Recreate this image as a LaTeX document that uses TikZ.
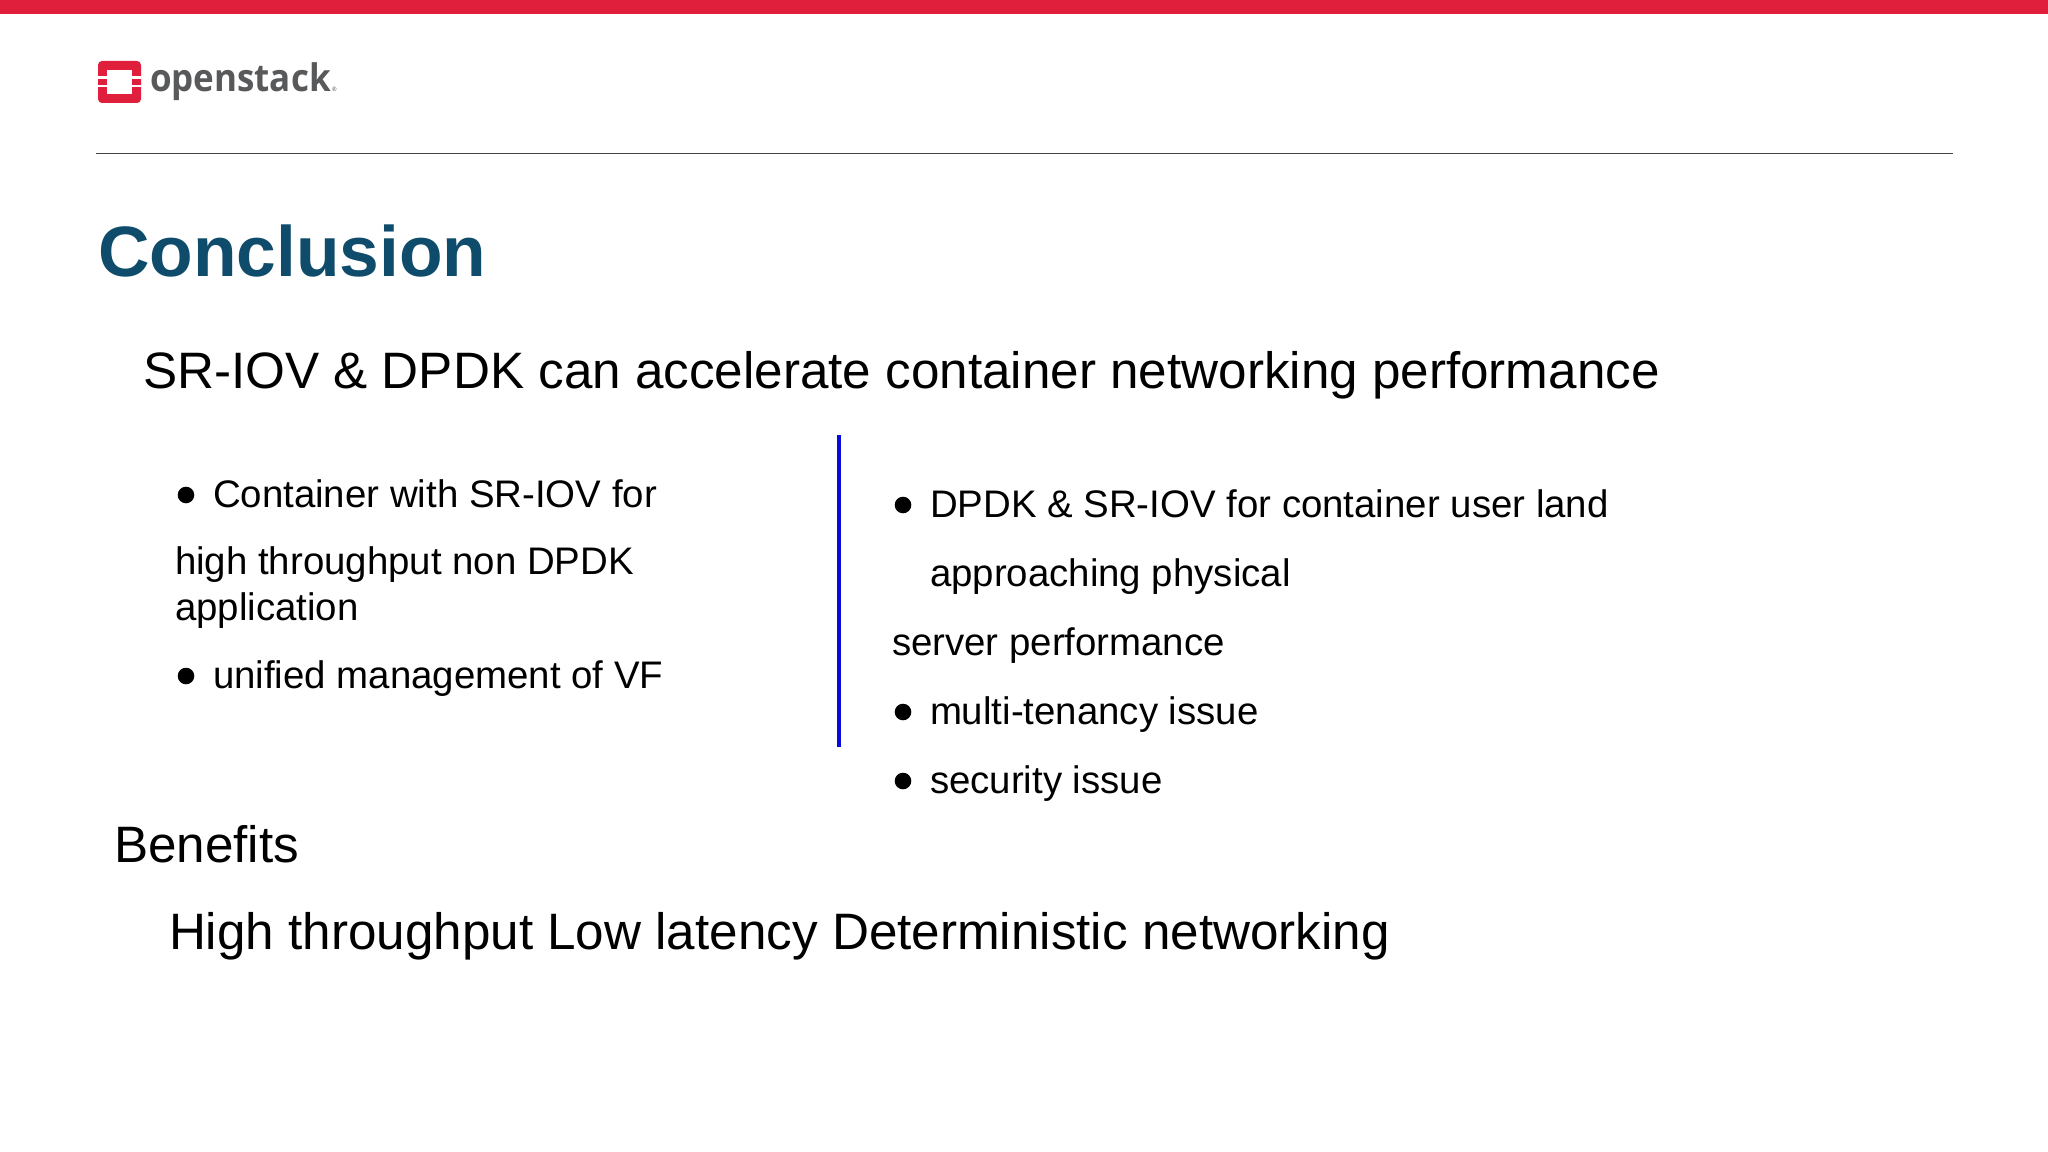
\documentclass[tikz,border=0pt]{standalone}
\usepackage{fontspec}
\setmainfont{Liberation Sans}
\newfontfamily\logofont[FakeStretch=0.92]{Open Sans}
\definecolor{topred}{HTML}{E01F3D}
\definecolor{titleblue}{HTML}{0F4C6B}
\definecolor{rulegray}{HTML}{444444}
\definecolor{divblue}{HTML}{0A0ADC}
\definecolor{logogray}{HTML}{58595B}
\tikzset{
 txt/.style={anchor=base west,inner sep=0pt,outer sep=0pt,text=black},
 body/.style={txt,font=\fontsize{28.8}{34}\selectfont},
 big/.style={txt,font=\fontsize{38.4}{46}\selectfont},
}
\begin{document}
\begin{tikzpicture}[x=0.75pt,y=-0.75pt]
\useasboundingbox (0,0) rectangle (2048,1152);
\fill[white] (0,0) rectangle (2048,1152);
\fill[topred] (0,0) rectangle (2048,14);
% logo
\fill[topred,rounded corners=3pt] (98,61) rectangle (141,103);
\fill[white] (107,70) rectangle (132,94);
\fill[white] (98,76.5) rectangle (107,79);
\fill[white] (98,85) rectangle (107,87.5);
\fill[white] (132,76.5) rectangle (141,79);
\fill[white] (132,85) rectangle (141,87.5);
\node[txt,text=logogray,font=\logofont\bfseries\fontsize{28.5}{34}\selectfont] (logo) at (150,92) {openstack};
\node[txt,text=logogray,font=\logofont\fontsize{4.5}{6}\selectfont] (reg) at (332,92) {®};
\draw[rulegray,line width=0.75pt] (96,153.5) -- (1953,153.5);
\node[txt,text=titleblue,font=\bfseries\fontsize{53.5}{60}\selectfont] (title) at (98,276) {Conclusion};
\node[big] (head) at (143,388) {SR-IOV \& DPDK can accelerate container networking performance};
% left column
\node[body] (l1) at (213,507) {Container with SR-IOV for};
\node[body] (l2) at (175,574) {high throughput non DPDK};
\node[body] (l3) at (175,620) {application};
\node[body] (l4) at (213,688) {unified management of VF};
\fill[black] (186,495) circle (8.3);
\fill[black] (186,676) circle (8.3);
\draw[divblue,line width=2.6pt] (839,435) -- (839,747);
% right column
\node[body] (r1) at (930,517) {DPDK \& SR-IOV for container user land};
\node[body] (r2) at (930,586) {approaching physical};
\node[body] (r3) at (892,655) {server performance};
\node[body] (r4) at (930,724) {multi-tenancy issue};
\node[body] (r5) at (930,793) {security issue};
\fill[black] (903,505) circle (8.3);
\fill[black] (903,712) circle (8.3);
\fill[black] (903,781) circle (8.3);
\node[big] (ben) at (114,862) {Benefits};
\node[big] (ben2) at (169,949) {High throughput Low latency Deterministic networking};
\end{tikzpicture}
\end{document}
